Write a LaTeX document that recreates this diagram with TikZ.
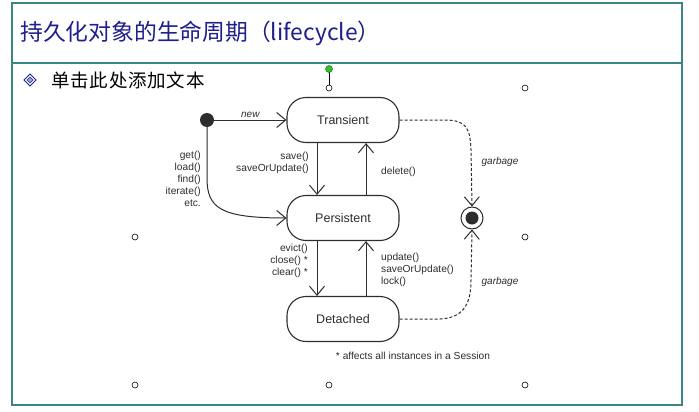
\documentclass[tikz,border=0pt]{standalone}
\usepackage{fontspec}
\setmainfont{Liberation Sans}
\newfontfamily\cjk{Noto Sans CJK SC}
\usetikzlibrary{arrows.meta}
\definecolor{frame}{HTML}{3C8585}
\definecolor{titleblue}{HTML}{1E1E8C}
\definecolor{ink}{HTML}{2E2E2E}
\definecolor{handlegreen}{HTML}{22CC22}
\newcommand{\gp}{\hspace{0.8pt}}
\begin{document}
\begin{tikzpicture}[x=1pt,y=-1pt,
  state/.style={draw=ink,line width=1.1pt,rounded corners=19pt,minimum width=112pt,minimum height=45pt,font=\fontsize{12.5}{14}\selectfont,text=ink,inner sep=0pt},
  lbl/.style={font=\fontsize{10.2}{12}\selectfont,text=ink,inner sep=0pt},
  ilbl/.style={lbl,font=\fontsize{10}{12}\selectfont\itshape},
  conn/.style={draw=ink,line width=1pt,-{Straight Barb[length=9pt,width=15pt]}},
  dconn/.style={conn,dashed,dash pattern=on 3pt off 2pt},
  handle/.style={circle,draw=black,fill=white,line width=0.6pt,minimum size=6pt,inner sep=0pt}]
\useasboundingbox (0,0) rectangle (699,412);
\fill[white] (0,0) rectangle (699,412);
% frame
\draw[frame,line width=1.2pt] (12,3) rectangle (682,405);
\draw[frame,line width=2.2pt] (12,63) -- (682,63);
% title
\node[anchor=west,inner sep=0pt,text=titleblue,font=\fontsize{22.8}{26}\selectfont] (title) at (20,33) {\cjk 持久化对象的生命周期（lifecycle）};
% bullet
\draw[titleblue,line width=0.8pt] (30,74) -- (36,80) -- (30,86) -- (24,80) -- cycle;
\draw[titleblue,fill=titleblue!40,line width=0.6pt] (30,77) -- (33,80) -- (30,83) -- (27,80) -- cycle;
\node[anchor=west,inner sep=0pt,font=\fontsize{18.5}{20}\selectfont] (sub) at (51,80) {\cjk 单\gp 击\gp 此\gp 处\gp 添\gp 加\gp 文\gp 本};
% handles
\draw[black,line width=0.6pt] (329,69) -- (329,88);
\node[circle,draw=black!70,fill=handlegreen,line width=0.5pt,minimum size=7pt,inner sep=0pt] (hg) at (329,69) {};
\foreach \p/\n in {{(329,88)}/h1,{(525,88)}/h2,{(135,237)}/h3,{(525,237)}/h4,{(135,385)}/h5,{(329,385)}/h6,{(525,385)}/h7}
  \node[handle] (\n) at \p {};
% states
\node[state] (T) at (343,120) {Transient};
\node[state] (P) at (343,218) {Persistent};
\node[state] (D) at (343,319) {Detached};
\node[circle,fill=ink,minimum size=14pt,inner sep=0pt] (init) at (207,120) {};
\node[circle,draw=ink,line width=1pt,minimum size=22pt,inner sep=0pt] (fin) at (472,218) {};
\node[circle,fill=ink,minimum size=13pt,inner sep=0pt] at (fin) {};
% transitions
\draw[conn] (init) -- (T) node[midway,above=2pt,ilbl] {new};
\draw[conn] (init.south) -- (207,178) .. controls (207,208) and (220,218) .. (P.west);
\node[lbl,anchor=north east,align=right] (l1) at (201,151) {get()\\load()\\find()\\iterate()\\etc.};
\draw[conn] (T.south -| 317,0) -- (P.north -| 317,0);
\node[lbl,anchor=north east,align=right] (l2) at (309,152) {save()\\saveOrUpdate()};
\draw[conn] (P.north -| 366,0) -- (T.south -| 366,0);
\node[lbl,anchor=west] (l3) at (381,172) {delete()};
\draw[conn] (P.south -| 317,0) -- (D.north -| 317,0);
\node[lbl,anchor=north east,align=right] (l4) at (308,244) {evict()\\close() *\\clear() *};
\draw[conn] (D.north -| 366,0) -- (P.south -| 366,0);
\node[lbl,anchor=north west,align=left] (l5) at (381,253) {update()\\saveOrUpdate()\\lock()};
\draw[dconn] (T.east) -- (445,120) .. controls (468,120) and (470,130) .. (471,150) -- (fin.north);
\node[ilbl] (g1) at (500,162) {garbage};
\draw[dconn] (D.east) -- (440,319) .. controls (466,318) and (471,300) .. (471,280) -- (fin.south);
\node[ilbl] (g2) at (500,282) {garbage};
\node[lbl] (note) at (413,356) {* affects all instances in a Session};
\end{tikzpicture}
\end{document}
